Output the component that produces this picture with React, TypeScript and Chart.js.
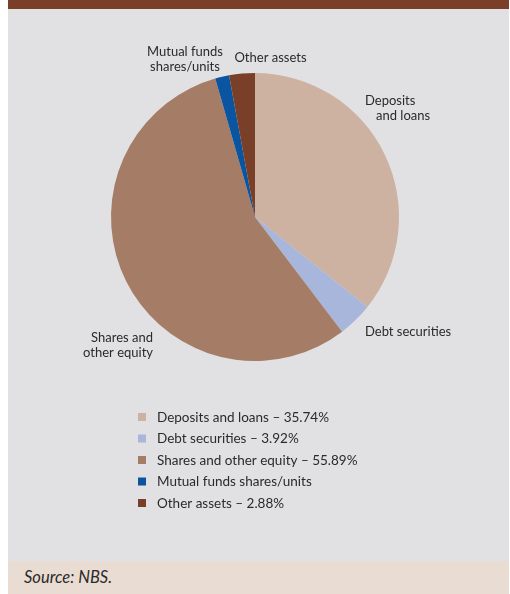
import React, { useEffect, useRef } from "react";
import { Chart, registerables } from "chart.js";

Chart.register(...registerables);

const categories = [
  "Deposits and loans",
  "Debt securities",
  "Shares and other equity",
  "Mutual funds shares/units",
  "Other assets",
];
const values = [35.74, 3.92, 55.89, 1.57, 2.88];
const showPercent = [true, true, true, false, true];
const colors = ["#cdb2a2", "#a8b6dc", "#a57c66", "#0b55a0", "#7a3f29"];
const pieLabelLines = [
  ["Deposits", "and loans"],
  ["Debt securities"],
  ["Shares and", "other equity"],
  ["Mutual funds", "shares/units"],
  ["Other assets"],
];

// label layout relative to pie centre: [dx, dy] per line, alignment
const labelLayout = [
  { align: "left", pos: [[110, -116], [121, -101]] },
  { align: "left", pos: [[110, 115]] },
  { align: "right", pos: [[-102, 121], [-102, 136]] },
  { align: "center", pos: [[-70, -165], [-70, -150]] },
  { align: "center", pos: [[15.5, -159]] },
];

const FONT = "Lato, 'Open Sans', sans-serif";
const TEXT = "#2b2a2a";

const labelsPlugin = {
  id: "outsideLabels",
  afterDraw(chart: any) {
    const ctx = chart.ctx;
    const arc = chart.getDatasetMeta(0).data[0];
    const cx = arc.x;
    const cy = arc.y;
    ctx.save();
    ctx.fillStyle = TEXT;
    ctx.font = `13px ${FONT}`;
    ctx.textBaseline = "middle";
    pieLabelLines.forEach((lines, i) => {
      const lay = labelLayout[i];
      ctx.textAlign = lay.align;
      lines.forEach((t, j) => {
        ctx.fillText(t, cx + lay.pos[j][0], cy + lay.pos[j][1]);
      });
    });
    // legend
    ctx.font = `13.5px ${FONT}`;
    ctx.textAlign = "left";
    const lx = cx - 117;
    const ly = cy + 200;
    categories.forEach((c, i) => {
      const y = ly + i * 21.5;
      ctx.fillStyle = colors[i];
      ctx.fillRect(lx, y - 4, 8, 8);
      ctx.fillStyle = TEXT;
      const txt = showPercent[i] ? `${c} – ${values[i].toFixed(2)}%` : c;
      ctx.fillText(txt, lx + 19, y + 0.5);
    });
    ctx.restore();
  },
};

export default function App() {
  const ref = useRef<HTMLCanvasElement | null>(null);
  useEffect(() => {
    document.body.style.margin = "0";
    const chart = new Chart(ref.current as HTMLCanvasElement, {
      type: "pie",
      data: {
        labels: categories,
        datasets: [
          {
            data: values,
            backgroundColor: colors,
            borderWidth: 0,
          },
        ],
      },
      options: {
        responsive: false,
        animation: false,
        layout: { padding: { left: 111, right: 111, top: 64, bottom: 200 } },
        plugins: { legend: { display: false }, tooltip: { enabled: false } },
      },
      plugins: [labelsPlugin],
    });
    return () => chart.destroy();
  }, []);
  return (
    <div style={{ position: "relative", width: 510, height: 594, background: "#fff" }}>
      <div style={{ position: "absolute", left: 8, top: 0, width: 501, height: 9, background: "#7b3f29" }} />
      <div style={{ position: "absolute", left: 8, top: 9, width: 501, height: 552, background: "#e1e1e3" }} />
      <canvas ref={ref} width={510} height={552} style={{ position: "absolute", left: 0, top: 9 }} />
      <div
        style={{
          position: "absolute",
          left: 8,
          top: 561,
          width: 501,
          height: 33,
          background: "#e8dcd3",
          fontFamily: FONT,
          fontStyle: "italic",
          fontSize: 16.5,
          color: TEXT,
          lineHeight: "33px",
          paddingLeft: 16,
          boxSizing: "border-box",
        }}
      >
        Source: NBS.
      </div>
    </div>
  );
}
